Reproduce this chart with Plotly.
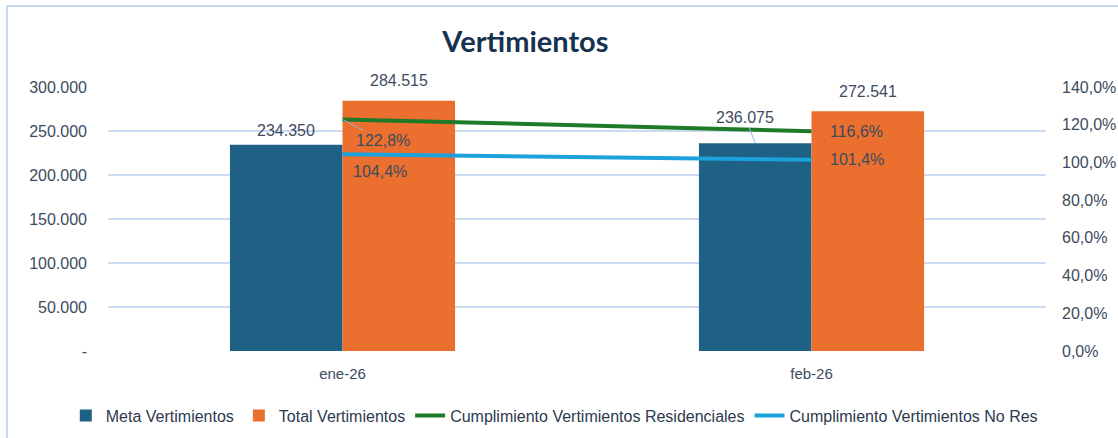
import plotly.graph_objects as go

categories = ["ene-26", "feb-26"]
meta = [234350, 236075]
total = [284515, 272541]
cump_res = [1.228, 1.166]
cump_nores = [1.044, 1.014]
left_ticks = [0, 50000, 100000, 150000, 200000, 250000, 300000]
left_tick_text = ["-", "50.000", "100.000", "150.000", "200.000", "250.000", "300.000"]
right_ticks = [0, 0.2, 0.4, 0.6, 0.8, 1.0, 1.2, 1.4]

BLUE = "#1f6085"
ORANGE = "#eb6f2f"
GREEN = "#1f7a28"
LBLUE = "#1ba1db"
TXT = "#3c4b5e"
GRID = "#c9dcf0"
FONT = "Liberation Sans, Arial, sans-serif"

bargap = 0.52
half = (1 - bargap) / 4  # offset of each bar centre from category centre

def fmt_int(v):
    return f"{v:,.0f}".replace(",", ".")

def fmt_pct(v):
    return f"{v*100:.1f}%".replace(".", ",")

xs = list(range(len(categories)))
fig = go.Figure()
fig.add_trace(go.Bar(name="Meta Vertimientos", x=xs, y=meta,
                     marker=dict(color=BLUE, line=dict(width=0))))
fig.add_trace(go.Bar(name="Total Vertimientos", x=xs, y=total,
                     marker=dict(color=ORANGE, line=dict(width=0))))
fig.add_trace(go.Scatter(name="Cumplimiento Vertimientos Residenciales", x=xs,
                         y=cump_res, yaxis="y2", mode="lines", line=dict(color=GREEN, width=4)))
fig.add_trace(go.Scatter(name="Cumplimiento Vertimientos No Res", x=xs,
                         y=cump_nores, yaxis="y2", mode="lines", line=dict(color=LBLUE, width=4)))

LF = dict(size=16, color=TXT, family=FONT)
ann = []
meta_shift = [4, 0]
total_shift = [10, 9]
for i, v in enumerate(meta):
    if i == 1:
        ann.append(dict(x=i - half, y=v, xref="x", yref="y", text=fmt_int(v), showarrow=True,
                        arrowhead=0, arrowwidth=1, arrowcolor="#8fb8e0", ax=-10, ay=-26, font=LF))
    else:
        ann.append(dict(x=i - half, y=v, xref="x", yref="y", text=fmt_int(v), showarrow=False,
                        yanchor="bottom", yshift=meta_shift[i], font=LF))
for i, v in enumerate(total):
    ann.append(dict(x=i + half, y=v, xref="x", yref="y", text=fmt_int(v), showarrow=False,
                    yanchor="bottom", yshift=total_shift[i], font=LF))
for i, v in enumerate(cump_res):
    if i == 0:
        ann.append(dict(x=i, y=v, xref="x", yref="y2", text=fmt_pct(v), showarrow=True,
                        arrowhead=0, arrowwidth=1, arrowcolor="#8fb8e0", ax=40, ay=21, font=LF))
    else:
        ann.append(dict(x=i, y=v, xref="x", yref="y2", text=fmt_pct(v), showarrow=False,
                        xanchor="left", xshift=16, font=LF))
for i, v in enumerate(cump_nores):
    ann.append(dict(x=i, y=v, xref="x", yref="y2", text=fmt_pct(v), showarrow=False,
                    xanchor="left", xshift=(8 if i == 0 else 16), yshift=(-17 if i == 0 else 0), font=LF))

fig.update_layout(
    width=1118, height=438,
    margin=dict(l=108, r=72, t=87, b=87, autoexpand=False),
    paper_bgcolor="white", plot_bgcolor="white",
    separators=",.",
    barmode="group", bargap=bargap, bargroupgap=0,
    title=dict(text="<b>Vertimientos</b>", x=0.47, xanchor="center", y=0.905, yanchor="middle",
               automargin=False,
               font=dict(size=29, color="#17324f", family="Lato, Open Sans, sans-serif")),
    font=dict(family=FONT, color=TXT, size=16),
    xaxis=dict(tickvals=xs, ticktext=categories, range=[-0.5, len(categories) - 0.5],
               showgrid=False, showline=False, zeroline=False, ticks="", ticklabelstandoff=12,
               automargin=False, tickfont=dict(size=15, color=TXT)),
    yaxis=dict(range=[0, 300000], tickvals=left_ticks, ticktext=left_tick_text, showgrid=True,
               gridcolor=GRID, gridwidth=1.5, zeroline=False, showline=False, ticks="",
               automargin=False, ticklabelstandoff=20, tickfont=dict(size=16, color=TXT)),
    yaxis2=dict(range=[0, 1.4], tickvals=right_ticks, tickformat=".1%", overlaying="y", side="right",
                showgrid=False, zeroline=False, showline=False, ticks="", ticklabelstandoff=15,
                automargin=False, tickfont=dict(size=16, color=TXT)),
    legend=dict(orientation="h", x=-0.045, xanchor="left", y=-0.245, yanchor="middle",
                font=dict(size=16, color="#2c3a4c", family=FONT),
                itemwidth=30, tracegroupgap=0),
    annotations=ann,
    shapes=[dict(type="rect", xref="paper", yref="paper", x0=-0.1077, x1=1.3, y0=-0.6, y1=1.3068,
                 line=dict(color="#c5d9f1", width=2), fillcolor="rgba(0,0,0,0)", layer="below")],
)

fig.write_html("out.html", config={"displayModeBar": False},
               post_script="document.body.style.margin='0';")
